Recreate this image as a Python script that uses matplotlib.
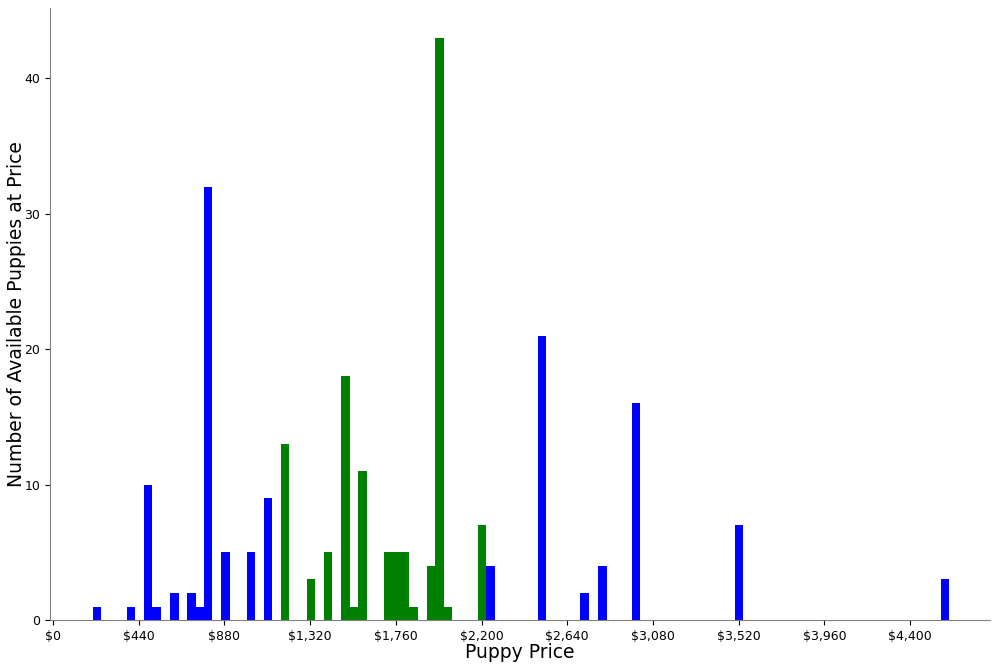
import matplotlib
matplotlib.use('Agg')
import matplotlib.pyplot as plt
from matplotlib.ticker import FuncFormatter, MultipleLocator

# left edge of each price bin ($) and puppy counts
blue_price = [204, 378, 467, 510, 601, 688, 731, 774, 863, 994, 1082,
              2223, 2489, 2707, 2799, 2972, 3500, 4556]
blue_count = [1, 1, 10, 1, 2, 2, 1, 32, 5, 5, 9,
              4, 21, 2, 4, 16, 7, 3]
green_price = [1169, 1302, 1390, 1479, 1521, 1566, 1698, 1740, 1783, 1828,
               1919, 1961, 2006, 2180]
green_count = [13, 3, 5, 18, 1, 11, 5, 5, 5, 1, 4, 43, 1, 7]
bin_w = 44

fig = plt.figure(figsize=(10, 6.66), dpi=100)
ax = fig.add_axes([0.05, 0.069, 0.94, 0.919])

ax.bar(blue_price, blue_count, width=bin_w, align='edge', color='blue')
ax.bar(green_price, green_count, width=bin_w, align='edge', color='green')

ax.set_xticks(list(range(0, 4401, 440)))
ax.xaxis.set_major_formatter(FuncFormatter(lambda v, p: '${:,.0f}'.format(v)))
ax.set_xlim(-15, 4810)
ax.set_ylim(0, 45.2)
ax.yaxis.set_major_locator(MultipleLocator(10))
ax.tick_params(labelsize=9)

for s in ['top', 'right']:
	ax.spines[s].set_visible(False)
for s in ['left', 'bottom']:
	ax.spines[s].set_color('gray')

ax.set_xlabel('Puppy Price', fontsize=13.5, labelpad=0)
ax.set_ylabel('Number of Available Puppies at Price', fontsize=13.5)
ax.yaxis.set_label_coords(-0.036, 0.5)
ax.yaxis.label.set_va('center')

fig.savefig('out.png')
